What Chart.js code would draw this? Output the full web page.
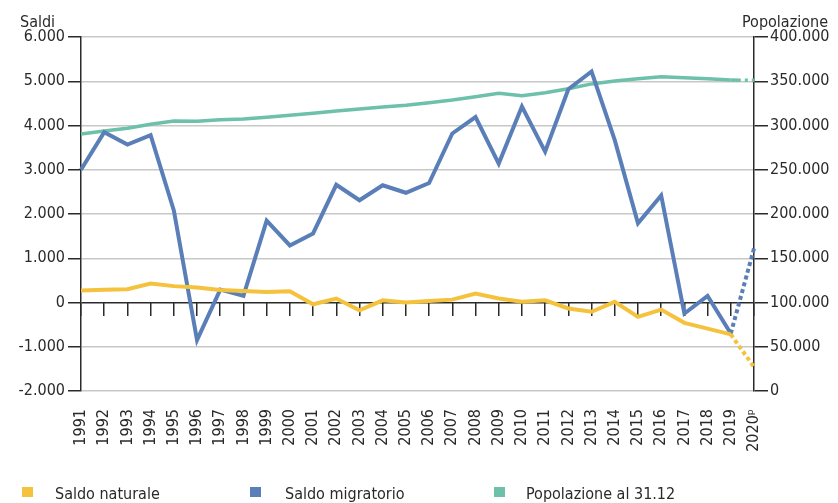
<!DOCTYPE html>
<html>
<head>
<meta charset="utf-8">
<script src="https://cdn.jsdelivr.net/npm/chart.js@4.4.1/dist/chart.umd.min.js"></script>
<style>
html,body{margin:0;padding:0;background:#fff;}
canvas{display:block;}
</style>
</head>
<body>
<canvas id="c" width="838" height="503"></canvas>
<script>
const years = ['1991','1992','1993','1994','1995','1996','1997','1998','1999','2000','2001','2002','2003','2004','2005','2006','2007','2008','2009','2010','2011','2012','2013','2014','2015','2016','2017','2018','2019','2020\u1D56'];
const saldoNaturale = [270,290,300,430,370,340,280,260,240,255,-40,90,-175,50,0,35,65,200,90,15,50,-135,-210,15,-325,-160,-460,-590,-720,-1460];
const saldoMigratorio = [3000,3850,3570,3780,2080,-850,290,150,1850,1290,1560,2660,2310,2650,2480,2700,3820,4190,3140,4430,3410,4820,5220,3670,1790,2420,-250,150,-700,1220];
const popolazione = [290400,293800,296800,301400,305000,304800,306600,307400,309300,311500,313800,316400,318700,321000,323000,325800,328800,332600,336400,333700,337000,341600,347000,350300,352900,355200,354000,352900,351400,351000];
const seriesNames = ['Saldo naturale','Saldo migratorio','Popolazione al 31.12'];
const seriesColors = ['#f4c23c','#5a7fb8','#6dc0a9'];
const leftTitle = 'Saldi';
const rightTitle = 'Popolazione';

const F = "'DejaVu Sans Condensed','Liberation Sans Narrow',sans-serif";
const FS = 16;
const TXT = '#2a2a2a';
const DARK = '#2a2a2a';
const last = years.length - 1;

function fmt(v){
  const s = Math.abs(v).toString().replace(/\B(?=(\d{3})+(?!\d))/g,'.');
  return (v < 0 ? '-' : '') + s;
}
function dashLast(pattern){
  return ctx => ctx.p1DataIndex === last ? pattern : undefined;
}

const extras = {
  id: 'extras',
  afterDraw(chart){
    const ctx = chart.ctx;
    ctx.save();
    ctx.fillStyle = TXT;
    ctx.font = FS + 'px ' + F;
    ctx.textBaseline = 'alphabetic';
    ctx.textAlign = 'left';
    ctx.fillText(leftTitle, 20, 27);
    ctx.textAlign = 'right';
    ctx.fillText(rightTitle, 828, 27);
    // legend
    const boxX = [22, 250, 494];
    const txtX = [55, 285, 526];
    ctx.textAlign = 'left';
    for (let i = 0; i < seriesNames.length; i++){
      ctx.fillStyle = seriesColors[i];
      ctx.fillRect(boxX[i], 487, 11, 10);
      ctx.fillStyle = TXT;
      ctx.fillText(seriesNames[i], txtX[i], 499);
    }
    ctx.restore();
  }
};

new Chart(document.getElementById('c'), {
  type: 'line',
  data: {
    labels: years,
    datasets: [
      {label: seriesNames[0], data: saldoNaturale, yAxisID: 'y', xAxisID: 'x', borderColor: seriesColors[0], borderWidth: 4, pointRadius: 0, tension: 0, segment: {borderDash: dashLast([4,3])}},
      {label: seriesNames[1], data: saldoMigratorio, yAxisID: 'y', xAxisID: 'x', borderColor: seriesColors[1], borderWidth: 4, pointRadius: 0, tension: 0, segment: {borderDash: dashLast([4,3])}},
      {label: seriesNames[2], data: popolazione, yAxisID: 'y1', xAxisID: 'x', borderColor: seriesColors[2], borderWidth: 3.5, pointRadius: 0, tension: 0, segment: {borderDash: dashLast([10,4,3,4])}}
    ]
  },
  options: {
    responsive: false,
    animation: false,
    devicePixelRatio: 1,
    layout: {padding: {top: 37, bottom: 0, left: 0, right: 0}},
    plugins: {legend: {display: false}, tooltip: {enabled: false}},
    scales: {
      x: {
        type: 'category',
        position: 'bottom',
        offset: false,
        grid: {display: false, drawTicks: false},
        border: {display: false},
        ticks: {autoSkip: false, maxRotation: 90, minRotation: 90, padding: 18, color: TXT, font: {family: F, size: FS}},
        afterFit(s){ s.height = 112; }
      },
      x2: {
        type: 'category',
        position: {y: 0},
        offset: false,
        grid: {drawOnChartArea: false, drawTicks: true, tickLength: 13, tickColor: DARK, lineWidth: 1.5},
        border: {display: false},
        ticks: {display: false}
      },
      y: {
        position: 'left',
        min: -2000, max: 6000,
        ticks: {stepSize: 1000, padding: 3, color: TXT, font: {family: F, size: FS}, callback: v => fmt(v)},
        grid: {color: c => (c.tick && c.tick.value === 0) ? DARK : '#c8c8c8', lineWidth: 1.5, tickColor: DARK, tickLength: 13},
        border: {display: true, color: DARK, width: 1.5},
        afterFit(s){ s.width = 81; }
      },
      y1: {
        position: 'right',
        min: 0, max: 400000,
        ticks: {stepSize: 50000, padding: 2, color: TXT, font: {family: F, size: FS}, callback: v => fmt(v)},
        grid: {drawOnChartArea: false, tickColor: DARK, tickLength: 14, lineWidth: 1.5},
        border: {display: true, color: DARK, width: 1.5},
        afterFit(s){ s.width = 84; }
      }
    }
  },
  plugins: [extras]
});
</script>
</body>
</html>
